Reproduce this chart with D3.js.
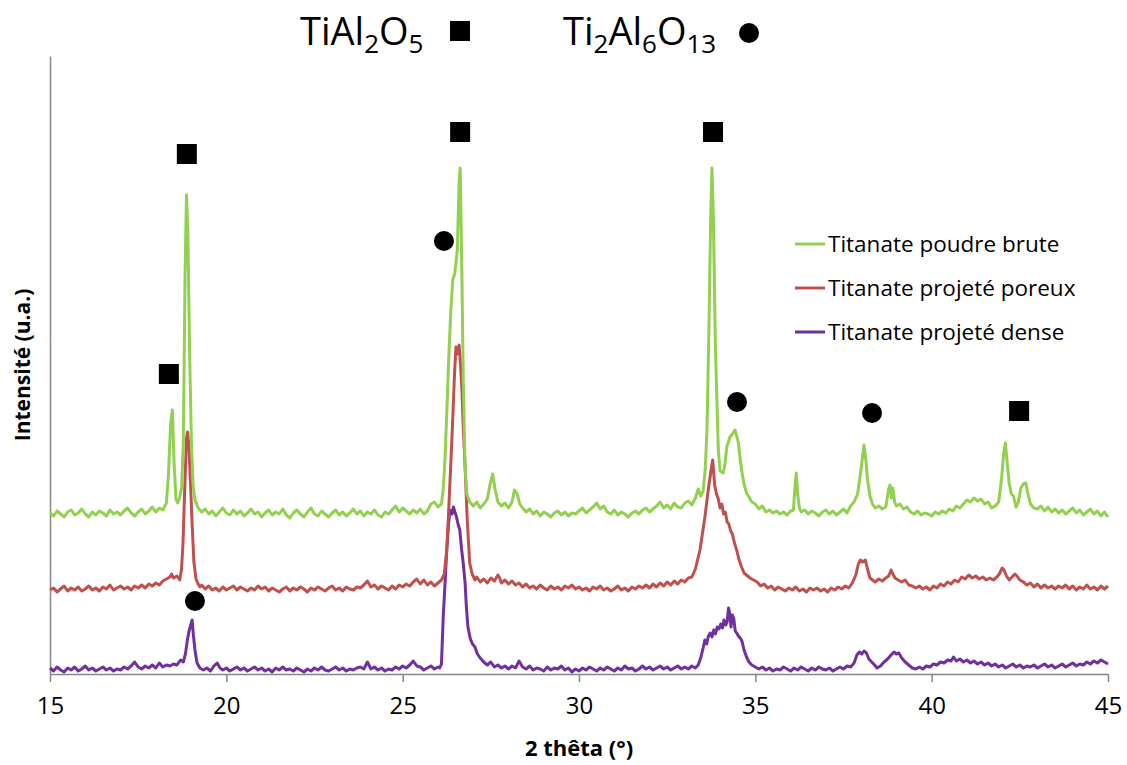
<!DOCTYPE html>
<html><head><meta charset="utf-8">
<script src="https://cdn.jsdelivr.net/npm/d3@7"></script>
<style>body{margin:0;background:#fff;} svg{display:block;}</style>
</head><body>
<svg id="chart" width="1127" height="765"></svg>
<script>
// 2θ (°) and intensity (a.u., offset traces)
const brute = [[15.0,161],[15.1,158],[15.2,163],[15.3,160],[15.4,157],[15.5,162],[15.6,164],[15.7,159],[15.8,161],[15.9,165],[16.0,160],[16.1,157],[16.2,162],[16.3,159],[16.4,163],[16.5,161],[16.6,158],[16.7,164],[16.8,160],[16.9,162],[17.0,159],[17.1,163],[17.2,166],[17.3,161],[17.4,158],[17.5,162],[17.6,165],[17.7,160],[17.8,163],[17.9,167],[18.0,162],[18.1,166],[18.2,164],[18.3,171],[18.36,200],[18.42,250],[18.47,264],[18.52,210],[18.57,175],[18.62,171],[18.68,177],[18.73,186],[18.78,230],[18.83,400],[18.87,479],[18.91,440],[18.96,320],[19.01,230],[19.06,188],[19.11,174],[19.2,166],[19.3,162],[19.4,165],[19.5,160],[19.6,163],[19.7,158],[19.8,162],[19.9,166],[20.0,161],[20.1,159],[20.2,164],[20.3,160],[20.4,163],[20.5,158],[20.6,161],[20.7,165],[20.8,160],[20.9,162],[21.0,157],[21.1,161],[21.2,164],[21.3,159],[21.4,162],[21.5,160],[21.6,165],[21.7,159],[21.8,156],[21.9,161],[22.0,164],[22.1,160],[22.2,157],[22.3,162],[22.4,166],[22.5,160],[22.6,158],[22.7,163],[22.8,160],[22.9,157],[23.0,161],[23.1,164],[23.2,159],[23.3,162],[23.4,158],[23.5,161],[23.6,165],[23.7,160],[23.8,163],[23.9,158],[24.0,162],[24.1,160],[24.2,164],[24.3,159],[24.4,157],[24.5,162],[24.6,160],[24.7,164],[24.8,168],[24.9,162],[25.0,166],[25.1,163],[25.2,160],[25.3,164],[25.4,161],[25.5,165],[25.6,160],[25.7,163],[25.8,170],[25.9,172],[26.0,167],[26.1,170],[26.15,185],[26.2,215],[26.25,260],[26.3,310],[26.36,360],[26.42,394],[26.48,401],[26.55,424],[26.6,491],[26.63,506],[26.67,424],[26.72,291],[26.77,207],[26.82,180],[26.9,172],[27.0,168],[27.1,172],[27.2,166],[27.3,170],[27.4,175],[27.48,190],[27.55,200],[27.62,185],[27.7,172],[27.8,168],[27.9,171],[28.0,166],[28.1,172],[28.17,184],[28.25,180],[28.32,170],[28.4,166],[28.5,162],[28.6,165],[28.7,160],[28.8,163],[28.9,158],[29.0,162],[29.1,160],[29.2,157],[29.3,161],[29.4,163],[29.5,159],[29.6,162],[29.7,158],[29.8,161],[29.9,160],[30.0,163],[30.1,166],[30.2,161],[30.3,164],[30.4,167],[30.5,171],[30.6,165],[30.7,168],[30.8,162],[30.9,160],[31.0,164],[31.1,159],[31.2,162],[31.3,160],[31.4,157],[31.5,161],[31.6,163],[31.7,160],[31.8,164],[31.9,166],[32.0,162],[32.1,165],[32.2,168],[32.3,172],[32.4,166],[32.5,169],[32.6,165],[32.7,171],[32.8,167],[32.9,166],[33.0,171],[33.1,173],[33.2,169],[33.3,176],[33.38,185],[33.45,178],[33.52,183],[33.58,205],[33.63,245],[33.69,357],[33.73,450],[33.77,506],[33.81,457],[33.87,324],[33.95,224],[34.0,203],[34.09,201],[34.14,210],[34.19,227],[34.28,237],[34.35,240],[34.42,244],[34.47,238],[34.52,231],[34.57,215],[34.61,204],[34.68,190],[34.75,181],[34.82,177],[34.9,172],[35.0,170],[35.1,165],[35.2,168],[35.3,162],[35.4,164],[35.5,161],[35.6,163],[35.7,160],[35.8,162],[35.9,159],[36.0,163],[36.08,164],[36.13,190],[36.16,201],[36.2,180],[36.25,166],[36.3,162],[36.4,164],[36.5,160],[36.6,163],[36.7,161],[36.8,158],[36.9,162],[37.0,164],[37.1,160],[37.2,163],[37.3,159],[37.4,162],[37.5,165],[37.6,161],[37.7,168],[37.8,172],[37.9,180],[38.0,205],[38.08,229],[38.13,215],[38.18,195],[38.25,178],[38.32,170],[38.4,166],[38.5,168],[38.6,165],[38.7,167],[38.78,185],[38.82,189],[38.86,176],[38.9,186],[38.95,172],[39.0,168],[39.1,170],[39.2,165],[39.3,167],[39.4,162],[39.5,160],[39.6,163],[39.7,159],[39.8,161],[39.9,160],[40.0,158],[40.1,162],[40.2,160],[40.3,163],[40.4,161],[40.5,165],[40.6,163],[40.7,168],[40.8,166],[40.9,170],[41.0,174],[41.1,172],[41.2,176],[41.3,173],[41.4,175],[41.5,170],[41.6,172],[41.7,166],[41.8,168],[41.9,172],[41.98,195],[42.04,220],[42.09,231],[42.14,212],[42.2,190],[42.26,180],[42.32,178],[42.39,167],[42.46,172],[42.53,186],[42.6,190],[42.67,191],[42.73,180],[42.8,170],[42.9,166],[43.0,165],[43.1,168],[43.2,163],[43.3,167],[43.4,162],[43.5,165],[43.6,161],[43.7,164],[43.8,160],[43.9,163],[44.0,166],[44.1,161],[44.2,164],[44.3,159],[44.4,162],[44.5,165],[44.6,160],[44.7,163],[44.8,158],[44.9,162],[45.0,157]];

const poreux = [[15.0,84],[15.1,86],[15.2,82],[15.3,85],[15.4,88],[15.5,83],[15.6,86],[15.7,84],[15.8,87],[15.9,83],[16.0,85],[16.1,88],[16.2,84],[16.3,86],[16.4,83],[16.5,87],[16.6,85],[16.7,89],[16.8,84],[16.9,86],[17.0,88],[17.1,85],[17.2,87],[17.3,84],[17.4,88],[17.5,86],[17.6,89],[17.7,86],[17.8,90],[17.9,88],[18.0,91],[18.1,89],[18.2,93],[18.3,95],[18.4,97],[18.45,100],[18.5,96],[18.6,98],[18.68,94],[18.73,105],[18.77,130],[18.82,185],[18.87,235],[18.9,242],[18.94,228],[18.99,185],[19.03,150],[19.08,112],[19.14,95],[19.2,90],[19.25,87],[19.3,89],[19.4,85],[19.5,88],[19.6,84],[19.7,86],[19.8,83],[19.9,87],[20.0,84],[20.1,86],[20.2,88],[20.3,84],[20.4,87],[20.5,85],[20.6,83],[20.7,86],[20.8,84],[20.9,88],[21.0,85],[21.1,87],[21.2,83],[21.3,86],[21.4,84],[21.5,82],[21.6,85],[21.7,87],[21.8,83],[21.9,86],[22.0,84],[22.1,87],[22.2,85],[22.3,82],[22.4,86],[22.5,84],[22.6,87],[22.7,85],[22.8,83],[22.9,86],[23.0,88],[23.1,84],[23.2,86],[23.3,83],[23.4,87],[23.5,85],[23.6,84],[23.7,87],[23.8,86],[23.9,89],[24.0,93],[24.1,87],[24.2,89],[24.3,85],[24.4,88],[24.5,86],[24.6,84],[24.7,88],[24.8,85],[24.9,89],[25.0,87],[25.1,90],[25.2,88],[25.3,92],[25.4,95],[25.5,90],[25.6,94],[25.7,89],[25.8,92],[25.9,88],[26.0,91],[26.1,94],[26.18,100],[26.25,124],[26.3,160],[26.34,191],[26.39,230],[26.43,264],[26.47,300],[26.51,327],[26.56,320],[26.6,329],[26.64,310],[26.68,284],[26.72,245],[26.77,207],[26.83,155],[26.9,111],[26.97,100],[27.05,94],[27.1,97],[27.2,92],[27.3,95],[27.4,91],[27.5,96],[27.6,93],[27.7,99],[27.75,96],[27.8,91],[27.9,94],[28.0,90],[28.1,93],[28.2,89],[28.3,91],[28.4,87],[28.5,90],[28.6,86],[28.7,88],[28.8,85],[28.9,89],[29.0,86],[29.1,84],[29.2,88],[29.3,85],[29.4,87],[29.5,84],[29.6,88],[29.7,86],[29.8,89],[29.9,85],[30.0,87],[30.1,84],[30.2,86],[30.3,83],[30.4,87],[30.5,85],[30.6,88],[30.7,84],[30.8,86],[30.9,83],[31.0,85],[31.1,88],[31.2,84],[31.3,86],[31.4,83],[31.5,87],[31.6,85],[31.7,88],[31.8,86],[31.9,89],[32.0,86],[32.1,90],[32.2,87],[32.3,91],[32.4,88],[32.5,92],[32.6,89],[32.7,93],[32.8,90],[32.9,94],[33.0,92],[33.1,96],[33.2,97],[33.3,105],[33.43,124],[33.57,157],[33.65,180],[33.72,198],[33.79,214],[33.85,188],[33.9,180],[33.95,175],[34.0,166],[34.05,170],[34.1,160],[34.15,162],[34.2,152],[34.25,150],[34.3,143],[34.35,140],[34.4,132],[34.47,124],[34.54,114],[34.61,107],[34.68,101],[34.75,99],[34.85,96],[34.95,94],[35.05,92],[35.15,88],[35.25,90],[35.35,86],[35.45,88],[35.55,84],[35.65,87],[35.75,85],[35.85,83],[35.95,86],[36.05,84],[36.15,87],[36.25,83],[36.35,85],[36.45,82],[36.55,86],[36.65,84],[36.75,86],[36.85,83],[36.95,85],[37.05,82],[37.15,86],[37.25,84],[37.35,87],[37.45,85],[37.55,88],[37.65,86],[37.75,91],[37.85,99],[37.92,110],[37.98,114],[38.05,112],[38.12,114],[38.18,105],[38.25,96],[38.32,94],[38.4,92],[38.5,95],[38.6,93],[38.7,96],[38.78,98],[38.85,104],[38.9,100],[38.96,96],[39.05,94],[39.15,92],[39.25,94],[39.35,89],[39.45,88],[39.55,86],[39.65,88],[39.75,85],[39.85,87],[39.95,84],[40.05,88],[40.15,86],[40.25,90],[40.35,88],[40.45,92],[40.55,90],[40.65,94],[40.75,92],[40.85,97],[40.95,95],[41.05,99],[41.15,96],[41.25,98],[41.35,95],[41.45,97],[41.55,94],[41.65,96],[41.75,94],[41.85,97],[41.92,100],[42.0,106],[42.05,104],[42.12,98],[42.2,94],[42.28,97],[42.36,100],[42.42,98],[42.5,94],[42.6,92],[42.7,89],[42.8,91],[42.9,87],[43.0,90],[43.1,86],[43.2,89],[43.3,86],[43.4,88],[43.5,85],[43.6,88],[43.7,86],[43.8,89],[43.9,85],[44.0,88],[44.1,84],[44.2,87],[44.3,85],[44.4,89],[44.5,85],[44.6,87],[44.7,84],[44.8,88],[44.9,85],[45.0,88]];

const dense = [[15.0,6],[15.1,3],[15.2,7],[15.3,4],[15.4,2],[15.5,6],[15.6,4],[15.7,7],[15.8,3],[15.9,5],[16.0,8],[16.1,4],[16.2,6],[16.3,3],[16.4,5],[16.5,7],[16.6,4],[16.7,6],[16.8,3],[16.9,5],[17.0,4],[17.1,7],[17.2,5],[17.3,8],[17.4,12],[17.5,7],[17.6,5],[17.7,8],[17.8,6],[17.9,9],[18.0,6],[18.1,11],[18.2,7],[18.3,9],[18.4,8],[18.5,10],[18.6,9],[18.7,14],[18.78,12],[18.84,20],[18.9,35],[18.95,44],[19.0,50],[19.03,54],[19.06,41],[19.11,24],[19.17,11],[19.25,6],[19.35,4],[19.45,6],[19.55,3],[19.65,8],[19.74,11],[19.82,6],[19.9,4],[20.0,6],[20.1,3],[20.2,5],[20.3,7],[20.4,4],[20.5,6],[20.6,3],[20.7,5],[20.8,7],[20.9,4],[21.0,6],[21.1,3],[21.2,5],[21.3,2],[21.4,6],[21.5,4],[21.6,7],[21.7,4],[21.8,5],[21.9,3],[22.0,6],[22.1,4],[22.2,2],[22.3,5],[22.4,3],[22.5,6],[22.6,4],[22.7,7],[22.8,4],[22.9,3],[23.0,5],[23.1,7],[23.2,4],[23.3,6],[23.4,3],[23.5,5],[23.6,4],[23.7,6],[23.8,7],[23.9,5],[24.0,12],[24.1,5],[24.2,7],[24.3,4],[24.4,6],[24.5,3],[24.6,5],[24.7,4],[24.8,7],[24.9,5],[25.0,8],[25.1,6],[25.2,9],[25.3,13],[25.4,8],[25.5,7],[25.6,4],[25.7,6],[25.8,8],[25.9,5],[26.0,7],[26.05,6],[26.1,10],[26.15,57],[26.2,90],[26.25,124],[26.3,150],[26.34,164],[26.4,160],[26.44,167],[26.48,162],[26.52,158],[26.57,150],[26.62,144],[26.67,125],[26.72,110],[26.77,91],[26.81,65],[26.85,47],[26.92,35],[26.98,30],[27.05,27],[27.12,20],[27.2,16],[27.3,12],[27.4,9],[27.5,12],[27.6,7],[27.7,9],[27.8,6],[27.9,8],[28.0,5],[28.1,8],[28.2,6],[28.3,13],[28.4,7],[28.5,5],[28.6,8],[28.7,4],[28.8,6],[28.9,5],[29.0,3],[29.1,7],[29.2,4],[29.3,6],[29.4,5],[29.5,8],[29.6,4],[29.7,6],[29.8,2],[29.9,5],[30.0,3],[30.1,6],[30.2,4],[30.3,7],[30.4,5],[30.5,3],[30.6,6],[30.7,4],[30.8,7],[30.9,5],[31.0,3],[31.1,6],[31.2,4],[31.3,8],[31.4,5],[31.5,6],[31.6,3],[31.7,5],[31.8,8],[31.9,5],[32.0,7],[32.1,4],[32.2,6],[32.3,8],[32.4,5],[32.5,7],[32.6,4],[32.7,6],[32.8,8],[32.9,5],[33.0,7],[33.1,5],[33.2,8],[33.3,6],[33.38,9],[33.45,16],[33.52,26],[33.57,34],[33.62,30],[33.67,38],[33.72,41],[33.77,37],[33.82,44],[33.87,40],[33.92,47],[33.97,45],[34.02,50],[34.07,46],[34.11,54],[34.16,49],[34.2,52],[34.24,66],[34.28,60],[34.31,47],[34.35,59],[34.39,55],[34.43,43],[34.47,41],[34.52,38],[34.57,36],[34.62,33],[34.68,24],[34.75,17],[34.82,12],[34.9,9],[35.0,7],[35.1,5],[35.2,7],[35.3,4],[35.4,6],[35.5,3],[35.6,5],[35.7,4],[35.8,7],[35.9,5],[36.0,3],[36.1,6],[36.2,4],[36.3,7],[36.4,5],[36.5,3],[36.6,6],[36.7,4],[36.8,7],[36.9,5],[37.0,4],[37.1,6],[37.2,3],[37.3,5],[37.4,7],[37.5,5],[37.6,8],[37.7,7],[37.8,11],[37.88,19],[37.95,22],[38.02,20],[38.08,23],[38.15,21],[38.22,15],[38.3,12],[38.38,9],[38.45,6],[38.55,8],[38.65,12],[38.75,15],[38.85,19],[38.93,22],[39.0,20],[39.07,21],[39.15,16],[39.25,12],[39.35,9],[39.45,6],[39.55,5],[39.65,7],[39.75,5],[39.85,8],[39.95,7],[40.05,10],[40.15,9],[40.25,12],[40.35,11],[40.45,14],[40.55,13],[40.62,17],[40.7,13],[40.8,15],[40.9,12],[41.0,14],[41.1,11],[41.2,13],[41.3,10],[41.4,12],[41.5,9],[41.6,11],[41.7,8],[41.8,10],[41.9,7],[42.0,9],[42.1,6],[42.2,8],[42.3,10],[42.4,7],[42.5,9],[42.6,6],[42.7,8],[42.8,7],[42.9,9],[43.0,6],[43.1,8],[43.2,10],[43.3,7],[43.4,9],[43.5,6],[43.6,8],[43.7,10],[43.8,7],[43.9,9],[44.0,11],[44.1,8],[44.2,10],[44.3,9],[44.4,12],[44.5,10],[44.6,13],[44.7,11],[44.8,14],[44.9,12],[45.0,10]];

const seriesNames = ["Titanate poudre brute", "Titanate projeté poreux", "Titanate projeté dense"];
const seriesColors = ["#92D050", "#C0504D", "#7030A0"];
const xTicks = [15, 20, 25, 30, 35, 40, 45];
// phase markers: [2θ, intensity]
const squareMarks = [[18.88,520],[18.37,300],[26.63,542],[33.80,542],[42.48,263]];
const circleMarks = [[26.17,433],[19.11,73],[34.48,272],[38.31,261]];

const svg = d3.select("#chart");
svg.append("rect").attr("width",1127).attr("height",765).attr("fill","#fff");
const FONT = "'Open Sans', 'DejaVu Sans', sans-serif";

const x = d3.scaleLinear().domain([15,45]).range([50,1108]);
const y = d3.scaleLinear().domain([0,618]).range([674,56]);

// axes
const xAxis = svg.append("g").attr("transform","translate(0,674)")
  .call(d3.axisBottom(x).tickValues(xTicks).tickSize(8).tickSizeOuter(0).tickPadding(15));
xAxis.select(".domain").attr("stroke","#868686").attr("stroke-width",1.5);
xAxis.selectAll(".tick line").attr("stroke","#868686").attr("stroke-width",1.5);
xAxis.selectAll(".tick text").attr("font-family",FONT).attr("font-size",24).attr("fill","#000");

const yAxis = svg.append("g").attr("transform","translate(50,0)")
  .call(d3.axisLeft(y).tickValues([]).tickSizeOuter(0));
yAxis.select(".domain").attr("stroke","#868686").attr("stroke-width",1.5);

// series
const line = d3.line().x(d=>x(d[0])).y(d=>y(d[1]));
[dense, poreux, brute].forEach((s,i)=>{
  const idx = 2-i;
  svg.append("path").datum(s).attr("d",line).attr("fill","none")
    .attr("stroke",seriesColors[idx]).attr("stroke-width",3).attr("stroke-linejoin","round");
});

// markers
svg.selectAll("rect.sq").data(squareMarks).join("rect").attr("class","sq")
  .attr("x",d=>x(d[0])-10).attr("y",d=>y(d[1])-10).attr("width",20).attr("height",20).attr("fill","#000");
svg.selectAll("circle.ci").data(circleMarks).join("circle").attr("class","ci")
  .attr("cx",d=>x(d[0])).attr("cy",d=>y(d[1])).attr("r",10).attr("fill","#000");

// phase key at top
function formula(xp, parts){
  const t = svg.append("text").attr("x",xp).attr("y",45).attr("font-family",FONT).attr("font-size",38).attr("fill","#000");
  parts.forEach(p=>{
    if(p.sub){ t.append("tspan").attr("font-size",26).attr("dy",8).text(p.t); }
    else { t.append("tspan").attr("dy",p.after?-8:0).text(p.t); }
  });
  return t;
}
formula(300,[{t:"TiAl"},{t:"2",sub:true},{t:"O",after:true},{t:"5",sub:true}]);
formula(563,[{t:"Ti"},{t:"2",sub:true},{t:"Al",after:true},{t:"6",sub:true},{t:"O",after:true},{t:"13",sub:true}]);
svg.append("rect").attr("x",450).attr("y",21).attr("width",20).attr("height",20).attr("fill","#000");
svg.append("circle").attr("cx",749).attr("cy",33).attr("r",10).attr("fill","#000");

// legend
const legY = [244, 288, 332];
seriesNames.forEach((n,i)=>{
  svg.append("line").attr("x1",795).attr("x2",825).attr("y1",legY[i]).attr("y2",legY[i])
    .attr("stroke",seriesColors[i]).attr("stroke-width",3);
  svg.append("text").attr("x",828).attr("y",legY[i]).attr("dy","0.35em")
    .attr("font-family",FONT).attr("font-size",22.5).attr("fill","#000").text(n);
});

// axis titles
svg.append("text").attr("x",579).attr("y",756).attr("text-anchor","middle")
  .attr("font-family",FONT).attr("font-weight","bold").attr("font-size",22).text("2 thêta (°)");
svg.append("text").attr("transform","translate(30,365) rotate(-90)").attr("text-anchor","middle")
  .attr("font-family",FONT).attr("font-weight","bold").attr("font-size",21).text("Intensité (u.a.)");
</script>
</body></html>
